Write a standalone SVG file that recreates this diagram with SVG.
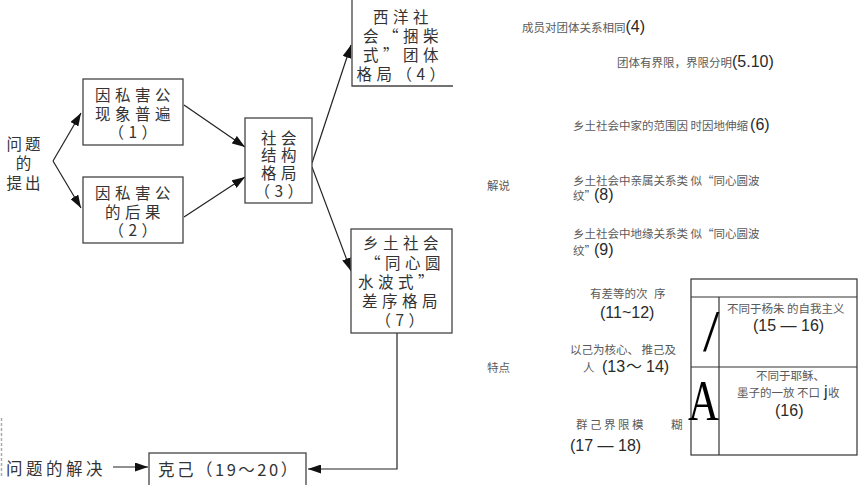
<svg xmlns="http://www.w3.org/2000/svg" width="860" height="485" viewBox="0 0 860 485">
<defs>
<marker id="ah" markerUnits="userSpaceOnUse" markerWidth="14" markerHeight="9" refX="13" refY="4.5" orient="auto"><path d="M0,0 L13,4.5 L0,9 z" fill="#111"/></marker>
</defs>
<style>
.box{fill:#fff;stroke:#444;stroke-width:1.3}
.bt{font-family:"Noto Sans CJK SC","Noto Sans",sans-serif;font-size:15.5px;fill:#333;letter-spacing:4.5px;text-anchor:middle}
.lt{font-family:"Noto Sans CJK SC","Noto Sans",sans-serif;font-size:16.5px;fill:#333}
.con{fill:none;stroke:#222;stroke-width:1.2}
.s{font-family:"Noto Sans CJK SC",sans-serif;font-size:11.5px;fill:#5a5a5a}
.n{font-family:"Liberation Sans",Arial,"Noto Sans CJK SC",sans-serif;font-size:16px;fill:#2a2a2a}
.tbl{fill:none;stroke:#333;stroke-width:1.2}
.big{font-family:"Liberation Serif","Times New Roman",serif;fill:#000}
</style>
<rect width="860" height="485" fill="#fff"/>
<line x1="1.5" y1="418" x2="1.5" y2="478" stroke="#aaa" stroke-width="1.5" stroke-dasharray="3,2"/>

<g id="connectors">
<path class="con" d="M53,161 L81,113" marker-end="url(#ah)"/>
<path class="con" d="M53,161 L81,208" marker-end="url(#ah)"/>
<path class="con" d="M184,105 L245,147" marker-end="url(#ah)"/>
<path class="con" d="M184,217 L245,177" marker-end="url(#ah)"/>
<path class="con" d="M312,163 L351,45" marker-end="url(#ah)"/>
<path class="con" d="M312,167 L351,271" marker-end="url(#ah)"/>
<path class="con" d="M397,333 V469 H308" stroke="#555" marker-end="url(#ah)"/>
<path class="con" d="M113,467 H148" marker-end="url(#ah)"/>
</g>

<g id="n-tichu">
<text class="bt" x="25" y="149.5" style="letter-spacing:3px">问题</text>
<text class="bt" x="25" y="168.5" style="letter-spacing:3px">的</text>
<text class="bt" x="25" y="188.5" style="letter-spacing:3px">提出</text>
</g>

<g id="n1">
<rect class="box" x="83" y="79" width="100" height="66"/>
<text class="bt" x="135" y="101">因私害公</text>
<text class="bt" x="135" y="119.5">现象普遍</text>
<text class="bt" x="135" y="138">（1）</text>
</g>

<g id="n2">
<rect class="box" x="83" y="177" width="100" height="66"/>
<text class="bt" x="135" y="199">因私害公</text>
<text class="bt" x="135" y="217.5">的后果</text>
<text class="bt" x="135" y="236">（2）</text>
</g>

<g id="n3">
<rect class="box" x="245" y="118" width="67" height="85"/>
<text class="bt" x="281" y="143.5">社会</text>
<text class="bt" x="281" y="161">结构</text>
<text class="bt" x="281" y="178.5">格局</text>
<text class="bt" x="281" y="196.5">（3）</text>
</g>

<g id="n4">
<path class="box" d="M352,-2 V86 H453" fill="none"/>
<text class="bt" x="403" y="23">西洋社</text>
<text class="bt" x="403" y="42">会“捆柴</text>
<text class="bt" x="403" y="61">式”团体</text>
<text class="bt" x="403" y="80">格局（4）</text>
</g>

<g id="n7">
<rect class="box" x="351" y="229" width="101" height="104"/>
<text class="bt" x="403" y="249">乡土社会</text>
<text class="bt" x="405" y="269">“同心圆</text>
<text class="bt" x="398" y="288">水波式”</text>
<text class="bt" x="402" y="307">差序格局</text>
<text class="bt" x="402" y="326">（7）</text>
</g>

<g id="n-jiejue">
<text class="lt" x="6" y="475" style="letter-spacing:3.5px">问题的解决</text>
</g>

<g id="n-keji">
<rect class="box" x="149" y="453" width="157" height="40"/>
<text class="lt" x="158" y="476" style="letter-spacing:2.5px">克己（19～20）</text>
</g>

<g id="explain">
<text class="s" x="522" y="31.5">成员对团体关系相同<tspan class="n" font-size="16">(4)</tspan></text>
<text class="s" x="617" y="66.5">团体有界限，界限分明<tspan class="n" font-size="16">(5.10)</tspan></text>
<text class="s" x="573" y="130">乡土社会中家的范围因 时因地伸缩<tspan class="n" font-size="17" dx="2">(6)</tspan></text>
<text class="s" x="487" y="189.5">解说</text>
<text class="s" x="573" y="184.5">乡土社会中亲属关系类 似“同心圆波</text>
<text class="s" x="573" y="200">纹”<tspan class="n" font-size="17" x="594">(8)</tspan></text>
<text class="s" x="573" y="237.5">乡土社会中地缘关系类 似“同心圆波</text>
<text class="s" x="573" y="255">纹”<tspan class="n" font-size="17" x="594">(9)</tspan></text>
</g>

<g id="features">
<text class="s" x="590" y="297.5">有差等的次<tspan x="654">序</tspan></text>
<text class="n" x="600" y="318">(11~12)</text>
<text class="s" x="570" y="353.5">以己为核心、 推己及</text>
<text class="s" x="583" y="371.5">人<tspan class="n" x="602">(13</tspan><tspan class="n" x="626" font-family="Noto Sans CJK SC">～</tspan><tspan class="n" x="646">14)</tspan></text>
<text class="s" x="487" y="371.5">特点</text>
<text class="s" x="576 590 604 618 632 671" y="428.5">群己界限模糊</text>
<text class="n" x="570" y="451">(17 — 18)</text>
</g>

<g id="table">
<rect class="tbl" x="691" y="279" width="166" height="176"/>
<line class="tbl" x1="691" y1="297" x2="857" y2="297"/>
<line class="tbl" x1="691" y1="367" x2="857" y2="367"/>
<line class="tbl" x1="719" y1="297" x2="719" y2="455"/>
<text class="big" x="703" y="351" font-size="59">/</text>
<text class="big" x="688" y="420" font-size="56" textLength="31" lengthAdjust="spacingAndGlyphs">A</text>
<text class="s" x="727" y="312.5">不同于杨朱 的自我主义</text>
<text class="n" x="753" y="331">(15 — 16)</text>
<text class="s" x="756" y="379.5">不同于耶稣、</text>
<text class="s" x="737" y="396.5">墨子的一放 不口<tspan class="n" x="824" font-size="16">j</tspan><tspan x="828">收</tspan></text>
<text class="n" x="775" y="416">(16)</text>
</g>
</svg>
